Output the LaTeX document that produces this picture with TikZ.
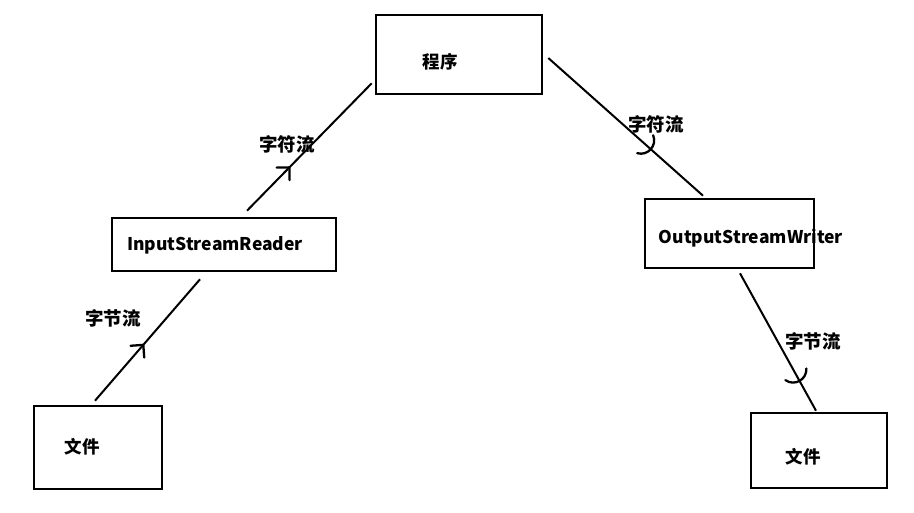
\documentclass[tikz,border=0pt]{standalone}
\usepackage{fontspec}
\setmainfont{Noto Sans CJK SC}
\usetikzlibrary{calc,decorations.markings}
\tikzset{
  box/.style={draw, line width=2.6pt, inner sep=0pt},
  txt/.style={font=\fontsize{17.5}{20}\selectfont\bfseries, inner sep=0pt},
  lbl/.style={font=\fontsize{18.5}{20}\selectfont\bfseries, inner sep=0pt},
  conn/.style={line width=2pt},
  tipL/.style={postaction={decorate}, decoration={markings, mark=at position #1 with {\draw[line width=2.3pt, line cap=round, line join=round] (-9pt,9pt) -- (0pt,0pt) -- (-9pt,-9pt);}}},
  tipR/.style={postaction={decorate}, decoration={markings, mark=at position #1 with {\draw[line width=2.3pt, line cap=round] (-7pt,12pt) .. controls (3pt,7pt) and (3pt,-7pt) .. (-7pt,-12pt);}}}
}
\begin{document}
\begin{tikzpicture}[x=1pt,y=-1pt]
\useasboundingbox (0,0) rectangle (914,512);
% boxes
\node[box, minimum width=166pt, minimum height=79pt] (prog) at (459,54.5) {};
\node[box, minimum width=224pt, minimum height=53pt] (isr) at (224,244.5) {};
\node[box, minimum width=128pt, minimum height=83pt] (file1) at (98,447.5) {};
\node[box, minimum width=169pt, minimum height=69pt] (osw) at (729.5,233.5) {};
\node[box, minimum width=136pt, minimum height=75pt] (file2) at (819,450.5) {};
% texts
\node[txt] (tprog) at (440,62) {程序};
\node[txt] (tisr) at (215,245) {InputStreamReader};
\node[txt] (tfile1) at (82,447) {文件};
\node[txt] (tosw) at (751,238) {OutputStreamWriter};
\node[txt] (tfile2) at (803,457) {文件};
% labels
\node[lbl] (l1) at (113,318) {字节流};
\node[lbl] (l2) at (287,144) {字符流};
\node[lbl] (l3) at (656,124) {字符流};
\node[lbl] (l4) at (813,341) {字节流};
% connectors
\draw[conn, tipL=0.46] ($(file1.north)+(-3,-4)$) -- ($(isr.south)+(-24,7)$);
\draw[conn, tipL=0.34] ($(isr.north)+(23,-6)$) -- ($(prog.south west)+(-3,-12)$);
\draw[conn, tipR=0.66] ($(prog.east)+(5,3.5)$) -- ($(osw.north)+(-26.5,-2)$);
\draw[conn, tipR=0.78] ($(osw.south)+(10.5,4)$) -- ($(file2.north)+(-3,-1)$);
\end{tikzpicture}
\end{document}
